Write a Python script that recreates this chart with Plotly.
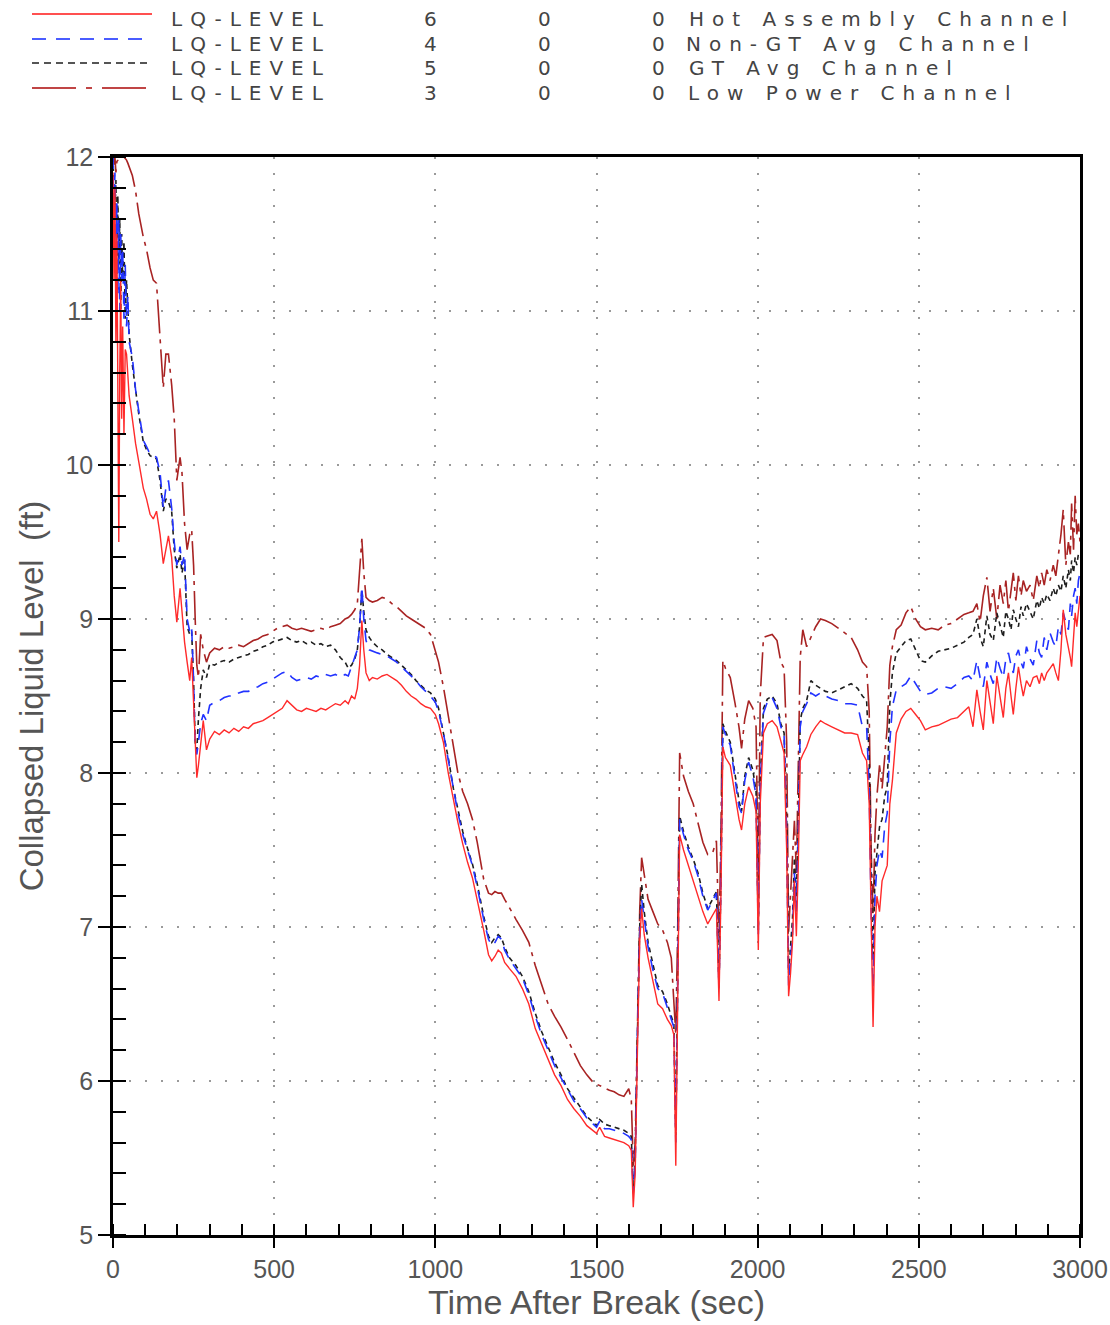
import plotly.graph_objects as go

# ---------------- data ----------------
time_s = [
    0, 3, 6, 9, 12, 15, 18, 21, 24, 27, 30, 34, 38, 42, 46, 50,
    60, 70, 80, 94, 104, 115, 125, 135, 146, 156, 164, 172, 182, 190, 198, 208, 214, 222, 230, 238, 244, 250, 255, 260,
    265, 272, 280, 290, 300, 315, 330, 345, 360, 375, 390, 405, 420, 435, 450, 465, 480, 495, 510, 525,
    540, 555, 570, 585, 600, 615, 630, 645, 660, 675, 690, 705, 720, 730, 740, 750, 758, 765, 772,
    778, 785, 795, 805, 820, 835, 850, 865, 880, 895, 910, 925, 940, 955, 970, 985, 1000,
    1010, 1025, 1040, 1056, 1070, 1085, 1100, 1115, 1130, 1150, 1165, 1175, 1185, 1195, 1205, 1215, 1230, 1250, 1270, 1290,
    1310, 1330, 1350, 1370, 1390, 1410, 1430, 1450, 1470, 1490, 1500, 1510, 1525, 1540, 1555, 1570, 1585, 1600, 1608,
    1614, 1620, 1627, 1634, 1640, 1648, 1660, 1675, 1690, 1705, 1720, 1732, 1740, 1746, 1752, 1758, 1770, 1785, 1800, 1815,
    1830, 1845, 1860, 1872, 1880, 1886, 1892, 1900, 1915, 1930, 1942, 1950, 1960, 1972, 1985, 1995, 2002, 2008, 2018, 2030,
    2045, 2060, 2072, 2082, 2090, 2096, 2102, 2108, 2114, 2120, 2126, 2132, 2140, 2152, 2165, 2180, 2195, 2210, 2230, 2250,
    2270, 2290, 2310, 2325, 2338, 2346, 2352, 2358, 2364, 2370, 2378, 2386, 2394, 2402, 2410, 2418, 2430, 2445, 2460, 2475,
    2490, 2505, 2520, 2540, 2560, 2580, 2600, 2620, 2640, 2655, 2668,
    2680, 2690, 2700, 2711, 2721, 2731, 2742, 2752, 2762, 2770, 2778, 2786, 2793, 2801, 2809, 2817, 2824, 2834, 2845, 2855,
    2866, 2874, 2881, 2889, 2897, 2907, 2917, 2925, 2933, 2941, 2948, 2956, 2964, 2970, 2974, 2980, 2985, 2990, 2995, 3000,
]

# LQ-LEVEL 6 - Hot Assembly Channel
hot_assembly = [
    11.9, 11.2, 11.8, 10.8, 11.5, 10.1, 9.5, 10.6, 11.2, 10.3, 10.9, 10.2, 10.75, 10.72, 10.6, 10.45,
    10.3, 10.14, 10.02, 9.85, 9.78, 9.68, 9.65, 9.7, 9.55, 9.36, 9.45, 9.54, 9.4, 9.15, 8.98, 9.2, 9.05, 8.85, 8.72, 8.6, 8.75, 8.45, 8.15, 7.97,
    8.05, 8.2, 8.34, 8.15, 8.22, 8.27, 8.25, 8.28, 8.26, 8.29, 8.27, 8.3, 8.29, 8.32, 8.33, 8.34, 8.36, 8.38, 8.4, 8.42,
    8.47, 8.44, 8.41, 8.4, 8.42, 8.41, 8.4, 8.42, 8.41, 8.43, 8.45, 8.44, 8.47, 8.45, 8.5, 8.48, 8.55, 8.7, 8.99,
    8.8, 8.65, 8.6, 8.62, 8.61, 8.63, 8.64, 8.62, 8.6, 8.57, 8.53, 8.5, 8.48, 8.45, 8.43, 8.42, 8.38,
    8.32, 8.2, 8.0, 7.82, 7.68, 7.54, 7.42, 7.32, 7.18, 6.98, 6.82, 6.78, 6.81, 6.85, 6.83, 6.77, 6.73, 6.68, 6.6, 6.5,
    6.34, 6.24, 6.15, 6.04, 5.97, 5.88, 5.82, 5.77, 5.71, 5.68, 5.66, 5.7, 5.64, 5.63, 5.62, 5.61, 5.6, 5.58, 5.55,
    5.18, 5.4, 6.2, 6.9, 7.12, 6.95, 6.8, 6.65, 6.5, 6.47, 6.4, 6.36, 6.3, 5.45, 6.5, 7.6, 7.5, 7.4, 7.31, 7.2,
    7.1, 7.02, 7.08, 7.12, 6.52, 7.2, 8.17, 8.1, 8.05, 7.85, 7.7, 7.63, 7.8, 7.91, 7.85, 7.75, 6.85, 7.8, 8.26, 8.32,
    8.34, 8.3, 8.2, 8.13, 7.5, 6.55, 6.7, 6.9, 7.3, 6.94, 7.4, 8.08, 8.12, 8.17, 8.25, 8.3, 8.34, 8.32, 8.3, 8.28,
    8.26, 8.26, 8.25, 8.13, 8.08, 7.8, 7.0, 6.35, 7.0, 7.2, 7.1, 7.3, 7.35, 7.4, 7.8, 7.95, 8.26, 8.35, 8.4, 8.42,
    8.38, 8.34, 8.28, 8.3, 8.31, 8.33, 8.35, 8.36, 8.4, 8.43, 8.3,
    8.54, 8.4, 8.28, 8.6, 8.45, 8.32, 8.63, 8.5, 8.36, 8.55, 8.65, 8.5, 8.38, 8.55, 8.69, 8.58, 8.5, 8.6, 8.56, 8.62,
    8.63, 8.58, 8.65, 8.6, 8.65, 8.68, 8.71, 8.65, 8.6, 8.8, 9.06, 8.9, 8.82, 8.75, 8.69, 8.85, 9.04, 8.95, 9.08, 9.15,
]

# LQ-LEVEL 4 - Non-GT Avg Channel
non_gt_avg = [
    12.0, 11.6, 11.9, 11.3, 11.7, 11.1, 11.6, 11.0, 11.5, 11.2, 11.4, 10.95, 11.3, 10.9, 11.1, 10.8,
    10.7, 10.49, 10.35, 10.16, 10.12, 10.07, 10.06, 10.05, 9.95, 9.72, 9.85, 9.9, 9.72, 9.5, 9.35, 9.47, 9.35, 9.42, 9.0, 8.92, 8.95, 8.6, 8.17, 8.12,
    8.2, 8.32, 8.38, 8.34, 8.44, 8.46, 8.47, 8.49, 8.5, 8.5, 8.52, 8.53, 8.53, 8.55, 8.56, 8.58, 8.59, 8.61, 8.63, 8.65,
    8.66, 8.62, 8.6, 8.61, 8.62, 8.61, 8.63, 8.62, 8.64, 8.63, 8.64, 8.62, 8.64, 8.63, 8.69, 8.75, 8.8, 8.95, 9.21,
    9.0, 8.86, 8.8, 8.79, 8.78, 8.77, 8.76, 8.74, 8.72, 8.69, 8.66, 8.63, 8.6, 8.56, 8.53, 8.5, 8.46,
    8.4, 8.26, 8.08, 7.89, 7.74, 7.6, 7.5, 7.4, 7.26, 7.05, 6.92, 6.88, 6.9, 6.94, 6.92, 6.85, 6.79, 6.73, 6.67, 6.56,
    6.42, 6.3, 6.2, 6.1, 6.02, 5.94, 5.87, 5.82, 5.76, 5.72, 5.7, 5.74, 5.69, 5.69, 5.68, 5.67, 5.66, 5.64, 5.62,
    5.27, 5.45, 6.3, 6.95, 7.18, 7.05, 6.87, 6.72, 6.6, 6.57, 6.48, 6.4, 6.35, 5.6, 6.6, 7.7, 7.6, 7.5, 7.43, 7.33,
    7.2, 7.11, 7.17, 7.22, 6.6, 7.3, 8.3, 8.25, 8.18, 7.95, 7.78, 7.74, 7.95, 8.07, 7.98, 7.85, 6.94, 7.9, 8.39, 8.46,
    8.49, 8.42, 8.3, 8.24, 7.6, 6.62, 6.8, 6.95, 7.35, 7.1, 7.6, 8.3, 8.4, 8.45, 8.52, 8.5, 8.52, 8.5, 8.48, 8.47,
    8.45, 8.45, 8.44, 8.3, 8.3, 7.9, 7.1, 6.61, 7.2, 7.4, 7.5, 7.45, 7.65, 7.74, 8.2, 8.43, 8.54, 8.56, 8.58, 8.63,
    8.58, 8.53, 8.51, 8.52, 8.55, 8.56, 8.55, 8.58, 8.62, 8.63, 8.6,
    8.73, 8.62, 8.56, 8.72, 8.64, 8.58, 8.75, 8.68, 8.62, 8.74, 8.78, 8.7, 8.65, 8.76, 8.8, 8.72, 8.68, 8.82, 8.74, 8.7,
    8.86, 8.78, 8.75, 8.88, 8.8, 8.91, 8.85, 8.82, 8.95, 8.9, 9.04, 8.98, 8.93, 9.1, 9.02, 9.15, 9.2, 9.1, 9.25, 9.3,
]

# LQ-LEVEL 5 - GT Avg Channel
gt_avg = [
    12.0, 11.8, 11.6, 11.85, 11.2, 11.75, 11.3, 11.6, 11.0, 11.5, 11.2, 11.45, 10.95, 11.2, 11.0, 10.85,
    10.65, 10.47, 10.33, 10.15, 10.1, 10.06, 10.05, 10.04, 9.9, 9.7, 9.78, 9.76, 9.7, 9.45, 9.33, 9.42, 9.3, 9.38, 8.95, 8.9, 8.92, 8.6, 8.2, 8.15,
    8.35, 8.55, 8.67, 8.62, 8.71, 8.7, 8.72, 8.73, 8.72, 8.74, 8.75, 8.76, 8.77, 8.79, 8.8, 8.82, 8.83, 8.85, 8.86, 8.87,
    8.88, 8.86, 8.85, 8.86, 8.84, 8.85, 8.83, 8.84, 8.82, 8.83, 8.8, 8.75, 8.72, 8.68, 8.7, 8.74, 8.8, 8.95, 9.19,
    9.05, 8.93, 8.88, 8.85, 8.82, 8.8, 8.77, 8.75, 8.73, 8.7, 8.67, 8.64, 8.6, 8.57, 8.54, 8.52, 8.48,
    8.42, 8.27, 8.1, 7.9, 7.76, 7.62, 7.51, 7.41, 7.28, 7.07, 6.94, 6.9, 6.93, 6.95, 6.93, 6.87, 6.8, 6.75, 6.68, 6.58,
    6.44, 6.32, 6.22, 6.12, 6.04, 5.95, 5.89, 5.83, 5.77, 5.73, 5.71, 5.75, 5.72, 5.71, 5.7, 5.69, 5.68, 5.66, 5.64,
    5.3, 5.5, 6.3, 7.0, 7.28, 7.1, 6.9, 6.75, 6.62, 6.58, 6.5, 6.42, 6.37, 5.65, 6.6, 7.72, 7.62, 7.52, 7.44, 7.35,
    7.22, 7.12, 7.18, 7.23, 6.62, 7.3, 8.32, 8.27, 8.2, 8.0, 7.82, 7.75, 7.98, 8.1, 8.02, 7.88, 6.98, 7.95, 8.42, 8.48,
    8.5, 8.45, 8.32, 8.26, 7.7, 6.7, 6.85, 7.05, 7.45, 7.2, 7.65, 8.34, 8.42, 8.47, 8.6, 8.57, 8.55, 8.53, 8.52, 8.54,
    8.56, 8.58, 8.55, 8.5, 8.47, 8.1, 7.3, 6.79, 7.35, 7.5, 7.65, 7.7, 7.85, 7.91, 8.45, 8.65, 8.78, 8.82, 8.86, 8.87,
    8.8, 8.73, 8.72, 8.76, 8.79, 8.8, 8.81, 8.83, 8.85, 8.88, 8.9,
    9.0, 8.88, 8.82, 9.02, 8.9, 8.86, 9.04, 8.95, 8.88, 9.05, 9.0, 8.93, 9.06, 9.0, 8.95, 9.08, 9.02, 9.1, 9.05, 9.0,
    9.12, 9.07, 9.14, 9.1, 9.16, 9.12, 9.2, 9.15, 9.22, 9.18, 9.28, 9.2, 9.32, 9.25, 9.38, 9.3, 9.4, 9.35, 9.42, 9.4,
]

# LQ-LEVEL 3 - Low Power Channel
low_power = [
    12.0, 11.95, 12.0, 11.9, 11.97, 11.98, 12.0, 12.0, 12.0, 12.0, 12.0, 12.0, 11.99, 11.98, 11.96, 11.94,
    11.88, 11.78, 11.63, 11.48, 11.4, 11.28, 11.2, 11.18, 10.8, 10.5, 10.72, 10.72, 10.52, 10.3, 9.9, 10.05, 9.95, 9.62, 9.45, 9.55, 9.58, 9.35, 9.0, 8.7,
    8.62, 8.9, 8.8, 8.72, 8.78, 8.81, 8.8, 8.82, 8.81, 8.82, 8.83, 8.82, 8.84, 8.86, 8.87, 8.89, 8.9, 8.92, 8.94, 8.95,
    8.96, 8.94, 8.93, 8.94, 8.93, 8.92, 8.93, 8.94, 8.93, 8.95, 8.96, 8.97, 9.0, 9.01, 9.03, 9.06, 9.1, 9.3, 9.52,
    9.3, 9.14, 9.12, 9.11, 9.12, 9.14, 9.13, 9.1, 9.08, 9.05, 9.02, 9.0, 8.98, 8.96, 8.94, 8.9, 8.8,
    8.72, 8.56, 8.37, 8.16, 8.0, 7.88, 7.8, 7.7, 7.55, 7.31, 7.22, 7.21, 7.23, 7.22, 7.22, 7.18, 7.12, 7.05, 6.98, 6.9,
    6.75, 6.62, 6.5, 6.42, 6.35, 6.27, 6.19, 6.1, 6.04, 5.99, 5.98, 5.97, 5.95, 5.94, 5.93, 5.91, 5.9, 5.95, 5.88,
    5.45, 5.6, 6.5, 7.1, 7.45, 7.35, 7.18, 7.1, 7.02, 6.98, 6.9, 6.8, 6.5, 6.3, 7.0, 8.13, 7.98, 7.88, 7.8, 7.67,
    7.55, 7.47, 7.48, 7.56, 6.9, 7.6, 8.73, 8.68, 8.62, 8.45, 8.3, 8.16, 8.35, 8.47, 8.42, 8.3, 7.3, 8.5, 8.88, 8.89,
    8.9, 8.86, 8.72, 8.68, 8.2, 6.97, 7.2, 7.45, 7.69, 7.35, 7.95, 8.75, 8.93, 8.82, 8.88, 8.95, 9.0, 8.99, 8.97, 8.94,
    8.91, 8.88, 8.8, 8.72, 8.69, 8.4, 7.5, 7.09, 7.6, 7.85, 8.05, 7.9, 8.1, 8.3, 8.7, 8.82, 8.93, 8.96, 9.04, 9.08,
    9.0, 8.95, 8.93, 8.94, 8.93, 8.96, 8.97, 9.0, 9.03, 9.04, 9.05,
    9.1, 8.98, 9.15, 9.27, 9.05, 9.2, 9.0, 9.22, 9.1, 9.25, 9.05, 9.2, 9.3, 9.12, 9.28, 9.15, 9.25, 9.18, 9.22, 9.12,
    9.28, 9.2, 9.3, 9.22, 9.32, 9.25, 9.35, 9.28, 9.4, 9.55, 9.71, 9.35, 9.5, 9.42, 9.75, 9.45, 9.8, 9.55, 9.62, 9.5,
]

series_labels = ["Hot Assembly Channel", "Non-GT Avg Channel", "GT Avg Channel", "Low Power Channel"]
level_ids = ["6", "4", "5", "3"]
x_tick_vals = [0, 500, 1000, 1500, 2000, 2500, 3000]
y_tick_vals = [5, 6, 7, 8, 9, 10, 11, 12]

for arr in (hot_assembly, non_gt_avg, gt_avg, low_power):
    assert len(arr) == len(time_s), (len(arr), len(time_s))

# ---------------- styling ----------------
series_values = [hot_assembly, non_gt_avg, gt_avg, low_power]
line_styles = [
    dict(color="#ff2a2a", dash="solid", width=1.4),
    dict(color="#2233ff", dash="12px,8px", width=1.6),
    dict(color="#1e1e1e", dash="5px,4px", width=1.6),
    dict(color="#a82323", dash="34px,6px,4px,6px", width=1.6),
]
legend_dash = ["solid", "14px,10px", "7px,5px", "44px,10px,6px,10px"]
legend_color = ["#ff5050", "#4a5cff", "#555555", "#c04545"]

NARROW = "Liberation Sans Narrow, Liberation Sans, Arial, sans-serif"
LEG_FONT = "DejaVu Sans, Liberation Sans, sans-serif"
LETTER_SPACING = 8

fig = go.Figure()
draw_order = [3, 2, 1, 0]
for i in draw_order:
    fig.add_trace(go.Scatter(
        x=time_s, y=series_values[i], mode="lines",
        name=series_labels[i], line=line_styles[i], showlegend=False,
    ))

W, H = 1110, 1325
L, R, T, B = 113, 30, 157, 90
PW, PH = W - L - R, H - T - B


def px2paper_x(px):
    return (px - L) / PW


def py2paper_y(py):
    return (H - B - py) / PH


fig.update_layout(
    width=W, height=H,
    margin=dict(l=L, r=R, t=T, b=B),
    plot_bgcolor="white", paper_bgcolor="white",
    showlegend=False,
)

fig.update_xaxes(
    range=[0, 3000], tick0=0, dtick=500,
    ticks="outside", ticklen=10, tickwidth=2, tickcolor="black",
    showline=True, linewidth=2.5, linecolor="black", mirror=True,
    showgrid=True, gridcolor="#9a9a9a", griddash="2px,14px", gridwidth=1.6,
    zeroline=False, automargin=False,
    minor=dict(dtick=100, tick0=0, ticks="inside", ticklen=11, tickwidth=2,
               tickcolor="black", showgrid=False),
    tickfont=dict(family=NARROW, size=25, color="#555555"),
    ticklabelstandoff=0, ticklabeloverflow="allow",
    title=dict(text="Time After Break (sec)", font=dict(family=NARROW, size=34, color="#555555"),
               standoff=6),
)
fig.update_yaxes(
    range=[5, 12], tick0=5, dtick=1,
    ticks="outside", ticklen=12, tickwidth=2, tickcolor="black",
    showline=True, linewidth=2.5, linecolor="black", mirror=True,
    showgrid=True, gridcolor="#9a9a9a", griddash="2px,14px", gridwidth=1.6,
    zeroline=False, automargin=False,
    minor=dict(dtick=0.2, tick0=5, ticks="inside", ticklen=13, tickwidth=2,
               tickcolor="black", showgrid=False),
    tickfont=dict(family=NARROW, size=25, color="#555555"),
    ticklabeloverflow="allow",
    title=dict(text="Collapsed Liquid Level  (ft)", font=dict(family=NARROW, size=33, color="#555555"),
               standoff=12),
)

# ---------------- custom legend block at the top ----------------
line_rows = [14, 39, 63, 88]
text_rows = [19, 44, 68, 93]
# visual extents (pixels) of the text columns in the reference
lq_span = (175, 320)
desc_spans = [(690, 1065), (690, 1025), (690, 950), (690, 1008)]
for i in range(4):
    fig.add_shape(
        type="line", xref="paper", yref="paper",
        x0=px2paper_x(32), x1=px2paper_x(152),
        y0=py2paper_y(line_rows[i]), y1=py2paper_y(line_rows[i]),
        line=dict(color=legend_color[i], width=1.8, dash=legend_dash[i]),
    )
    yv = py2paper_y(text_rows[i])
    common = dict(xref="paper", yref="paper", y=yv, yanchor="middle", xanchor="center",
                  showarrow=False, font=dict(family=LEG_FONT, size=20, color="#444444"))
    half = LETTER_SPACING / 2
    fig.add_annotation(text="LQ-LEVEL", x=px2paper_x((lq_span[0] + lq_span[1]) / 2 + half), **common)
    fig.add_annotation(text=level_ids[i], x=px2paper_x(430 + half), **common)
    fig.add_annotation(text="0", x=px2paper_x(544 + half), **common)
    fig.add_annotation(text="0", x=px2paper_x(658 + half), **common)
    d0, d1 = desc_spans[i]
    fig.add_annotation(text=series_labels[i], x=px2paper_x((d0 + d1) / 2 + half), **common)

post_js = (
    "var s=document.createElement('style');"
    "s.textContent='.annotation-text{letter-spacing:%dpx;}';"
    "document.head.appendChild(s);" % LETTER_SPACING
)
fig.write_html("out.html", post_script=post_js)
